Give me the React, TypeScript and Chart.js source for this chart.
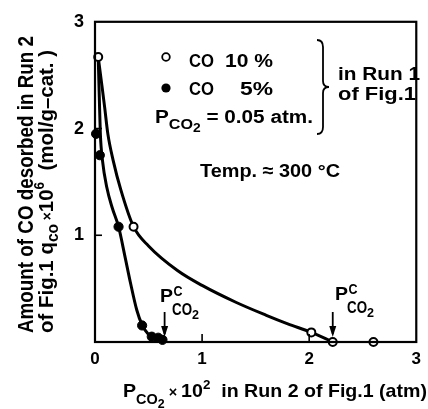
import React, { useEffect, useRef } from 'react';
import { Chart, registerables } from 'chart.js';

Chart.register(...registerables);

// ---- data ----
const co10X = [0.03, 0.36, 2.02, 2.22, 2.6];
const co10Y = [2.67, 1.08, 0.09, 0.0, 0.0];
const co5X = [0.01, 0.045, 0.22, 0.44, 0.53, 0.59, 0.63];
const co5Y = [1.95, 1.75, 1.08, 0.155, 0.05, 0.04, 0.02];
const curve10X = [0.03, 0.065, 0.09, 0.12, 0.17, 0.24, 0.36, 0.5, 0.77, 1.0, 1.32, 1.6, 1.8, 2.02, 2.22];
const curve10Y = [2.67, 2.4, 2.2, 1.95, 1.7, 1.43, 1.08, 0.9, 0.67, 0.53, 0.37, 0.25, 0.17, 0.09, 0.0];
const curve5X = [0.03, 0.04, 0.05, 0.07, 0.11, 0.16, 0.22, 0.28, 0.33, 0.39, 0.44, 0.5, 0.56, 0.63];
const curve5Y = [2.67, 2.3, 1.95, 1.7, 1.45, 1.26, 1.08, 0.8, 0.56, 0.3, 0.16, 0.07, 0.025, 0.0];
const criticalX = [0.65, 2.22];
const xTickValues = [1, 2];
const yTickValues = [1, 2];

const FONT = '"Liberation Sans", Arial, sans-serif';
const W = 'bold';

type Run = { t: string; size: number; dy?: number };

function runsWidth(ctx: CanvasRenderingContext2D, runs: Run[]) {
  let w = 0;
  for (const r of runs) {
    ctx.font = `${W} ${r.size}px ${FONT}`;
    w += ctx.measureText(r.t).width;
  }
  return w;
}

function drawRuns(ctx: CanvasRenderingContext2D, x: number, y: number, runs: Run[]) {
  let cx = x;
  for (const r of runs) {
    ctx.font = `${W} ${r.size}px ${FONT}`;
    ctx.fillText(r.t, cx, y + (r.dy || 0));
    cx += ctx.measureText(r.t).width;
  }
  return cx - x;
}

function drawFitted(ctx: CanvasRenderingContext2D, x: number, y: number, runs: Run[], target: number, rot = 0) {
  const w = runsWidth(ctx, runs);
  ctx.save();
  ctx.translate(x, y);
  if (rot) ctx.rotate(rot);
  ctx.scale(target / w, 1);
  drawRuns(ctx, 0, 0, runs);
  ctx.restore();
}

const decorPlugin = {
  id: 'decor',
  afterDraw(chart: any) {
    const ctx: CanvasRenderingContext2D = chart.ctx;
    const { left, right, top, bottom } = chart.chartArea;
    const xs = chart.scales.x;
    const ys = chart.scales.y;
    ctx.save();
    ctx.fillStyle = '#000';
    ctx.strokeStyle = '#000';
    ctx.textBaseline = 'alphabetic';
    ctx.textAlign = 'left';

    // frame
    ctx.lineWidth = 2.2;
    ctx.strokeRect(left, top, right - left, bottom - top);
    // inward ticks
    ctx.lineWidth = 1.6;
    for (const v of xTickValues) {
      const px = xs.getPixelForValue(v);
      ctx.beginPath();
      ctx.moveTo(px, bottom);
      ctx.lineTo(px, bottom - 8);
      ctx.stroke();
    }
    for (const v of yTickValues) {
      const py = ys.getPixelForValue(v);
      ctx.beginPath();
      ctx.moveTo(left, py);
      ctx.lineTo(left + 7, py);
      ctx.stroke();
    }

    // legend
    ctx.lineWidth = 1.8;
    ctx.beginPath();
    ctx.arc(166, 57, 3.8, 0, Math.PI * 2);
    ctx.fillStyle = '#fff';
    ctx.fill();
    ctx.stroke();
    ctx.fillStyle = '#000';
    ctx.beginPath();
    ctx.arc(166, 88, 4.6, 0, Math.PI * 2);
    ctx.fill();

    drawFitted(ctx, 189, 67, [{ t: 'CO', size: 18 }], 25);
    drawFitted(ctx, 189, 95, [{ t: 'CO', size: 18 }], 25);
    drawFitted(ctx, 225, 67, [{ t: '10 %', size: 18 }], 48);
    drawFitted(ctx, 240, 95, [{ t: '5%', size: 18 }], 33);
    drawFitted(ctx, 155, 123, [
      { t: 'P', size: 18 },
      { t: 'CO', size: 14, dy: 6 },
      { t: '2', size: 12, dy: 9 },
      { t: ' = 0.05 atm.', size: 18 },
    ], 158);

    // brace
    ctx.lineWidth = 1.8;
    ctx.beginPath();
    ctx.moveTo(317, 40);
    ctx.quadraticCurveTo(323, 40, 323, 47);
    ctx.lineTo(323, 81);
    ctx.quadraticCurveTo(323, 87, 329, 87);
    ctx.quadraticCurveTo(323, 87, 323, 93);
    ctx.lineTo(323, 127);
    ctx.quadraticCurveTo(323, 134, 317, 134);
    ctx.stroke();

    drawFitted(ctx, 338, 80, [{ t: 'in Run 1', size: 18 }], 82);
    drawFitted(ctx, 338, 100, [{ t: 'of Fig.1', size: 18 }], 78);

    drawFitted(ctx, 200, 177, [{ t: 'Temp. \u2248 300 \u00B0C', size: 19 }], 140);

    // critical pressure labels and arrows
    const labelLeft = [160, 335];
    const labelBase = [302, 300];
    criticalX.forEach((cx, i) => {
      const px = xs.getPixelForValue(cx);
      const lx = labelLeft[i];
      const by = labelBase[i];
      drawFitted(ctx, lx, by, [{ t: 'P', size: 19 }], 13);
      drawFitted(ctx, lx + 13.5, by - 6, [{ t: 'C', size: 14 }], 9);
      drawFitted(ctx, lx + 12, by + 13, [{ t: 'CO', size: 16 }], 20);
      drawFitted(ctx, lx + 32, by + 17, [{ t: '2', size: 13 }], 7);
      // arrow
      ctx.lineWidth = 1.8;
      ctx.beginPath();
      ctx.moveTo(px, 312);
      ctx.lineTo(px, 334);
      ctx.stroke();
      ctx.beginPath();
      ctx.moveTo(px - 3.5, 326);
      ctx.lineTo(px, 337);
      ctx.lineTo(px + 3.5, 326);
      ctx.closePath();
      ctx.fill();
    });

    // x-axis title
    drawFitted(ctx, 123, 397, [
      { t: 'P', size: 19 },
      { t: 'CO', size: 14, dy: 7 },
      { t: '2', size: 12, dy: 11 },
      { t: ' \u00D7 ', size: 14 },
      { t: '10', size: 19 },
      { t: '2', size: 13, dy: -8 },
      { t: '  in Run 2 of Fig.1 (atm)', size: 19 },
    ], 304);

    // y-axis title (two rotated lines)
    drawFitted(ctx, 33, 333, [{ t: 'Amount of CO desorbed in Run 2', size: 22 }], 297, -Math.PI / 2);
    drawFitted(ctx, 53, 333, [
      { t: 'of Fig.1 q', size: 21 },
      { t: 'co', size: 16, dy: 5 },
      { t: ' \u00D7', size: 14, dy: -1 },
      { t: '10', size: 21 },
      { t: '6', size: 14, dy: -9 },
      { t: '  (mol/g\u2013cat. )', size: 21 },
    ], 283, -Math.PI / 2);

    ctx.restore();
  },
};

export default function App() {
  const ref = useRef<HTMLCanvasElement | null>(null);

  useEffect(() => {
    if (!ref.current) return;
    const pts = (xs: number[], ys: number[]) => xs.map((x, i) => ({ x, y: ys[i] }));
    const chart = new Chart(ref.current, {
      type: 'scatter',
      data: {
        datasets: [
          {
            label: 'CO 10 %',
            data: pts(co10X, co10Y),
            pointRadius: 4,
            pointBackgroundColor: '#fff',
            pointBorderColor: '#000',
            pointBorderWidth: 2,
            showLine: false,
            clip: false,
          } as any,
          {
            label: 'CO 5 %',
            data: pts(co5X, co5Y),
            pointRadius: 4.6,
            pointBackgroundColor: '#000',
            pointBorderColor: '#000',
            pointBorderWidth: 1,
            showLine: false,
            clip: false,
          } as any,
          {
            label: 'curve 10',
            data: pts(curve10X, curve10Y),
            showLine: true,
            pointRadius: 0,
            borderColor: '#000',
            borderWidth: 3,
            cubicInterpolationMode: 'monotone',
          } as any,
          {
            label: 'curve 5',
            data: pts(curve5X, curve5Y),
            showLine: true,
            pointRadius: 0,
            borderColor: '#000',
            borderWidth: 3,
            cubicInterpolationMode: 'monotone',
          } as any,
        ],
      },
      options: {
        responsive: false,
        animation: false,
        devicePixelRatio: 1,
        layout: { padding: { top: 12, right: 4, left: 0, bottom: 0 } },
        plugins: { legend: { display: false }, tooltip: { enabled: false } },
        scales: {
          x: {
            type: 'linear',
            min: 0,
            max: 3,
            grid: { display: false, drawTicks: false },
            border: { display: false },
            ticks: {
              stepSize: 1,
              padding: 7,
              color: '#000',
              font: { family: FONT, size: 17, weight: 'bold' },
            },
            afterFit: (s: any) => {
              s.height = 67;
            },
          },
          y: {
            type: 'linear',
            min: 0,
            max: 3,
            grid: { display: false, drawTicks: false },
            border: { display: false },
            ticks: {
              stepSize: 1,
              padding: 11,
              color: '#000',
              font: { family: FONT, size: 18, weight: 'bold' },
              callback: (v: any) => (v === 0 ? '' : String(v)),
            },
            afterFit: (s: any) => {
              s.width = 95;
            },
          },
        },
      } as any,
      plugins: [decorPlugin],
    });
    return () => chart.destroy();
  }, []);

  return (
    <div style={{ position: 'fixed', left: 0, top: 0, width: 428, height: 409, background: '#fff' }}>
      <canvas ref={ref} width={428} height={409} style={{ display: 'block' }} />
    </div>
  );
}
